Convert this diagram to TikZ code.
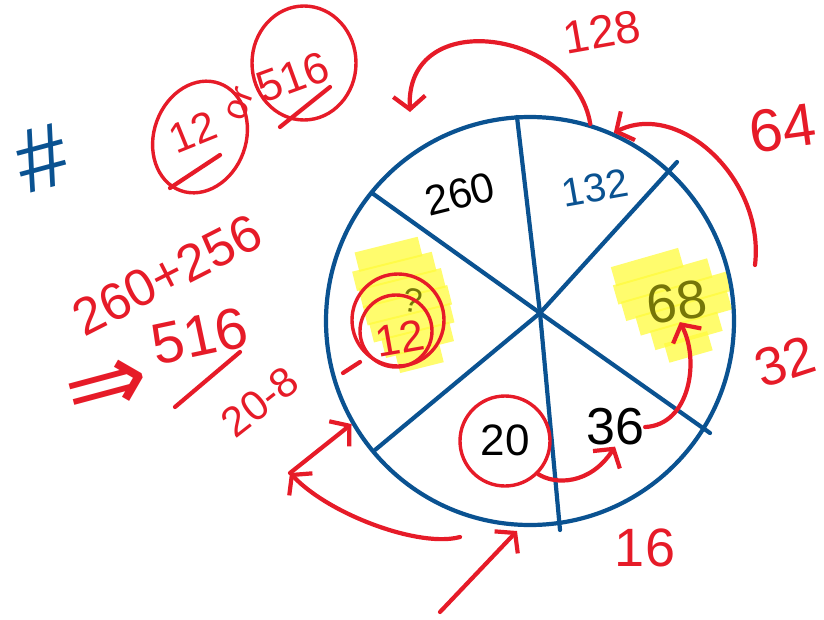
\documentclass[tikz,border=0pt]{standalone}
\usepackage{fontspec}
\setmainfont{Liberation Sans}
\newfontfamily\symbolfont{DejaVu Sans}
\usetikzlibrary{arrows.meta,positioning,calc,shapes.geometric}
\definecolor{inkred}{RGB}{230,27,40}
\definecolor{inkblue}{RGB}{10,82,145}
\definecolor{inkolive}{RGB}{118,118,8}
\definecolor{hilite}{RGB}{255,251,60}
\tikzset{
  pen/.style={line width=4.2pt, line cap=round, line join=round},
  redpen/.style={pen, draw=inkred},
  bluepen/.style={pen, draw=inkblue},
  arrow/.style={redpen, -{Straight Barb[length=13pt, width=32pt]}},
  ring/.style={redpen, line width=3.4pt, inner sep=0pt},
  num/.style={inner sep=1pt, font=\fontsize{#1}{#1}\selectfont},
  num/.default=42,
  note/.style={num=#1, text=inkred},
  note/.default=50,
  marker/.style={fill=hilite, fill opacity=0.75},
}

\begin{document}
\begin{tikzpicture}[x=1pt, y=-1pt]
  \useasboundingbox (0,0) rectangle (824,619);

  % highlighter strokes
  \foreach \y/\a/\b in {-42/-55/15, -24/-58/40, -6/-55/55, 12/-45/50, 30/-35/35, 46/-25/20}
    \fill[marker, rotate around={16:(678,302)}] (678+\a,302+\y-10) rectangle (678+\b,302+\y+10);
  \foreach \y/\a/\b in {-58/-35/30, -40/-42/40, -22/-40/45, -4/-40/47, 14/-38/45, 32/-30/40, 50/-20/25}
    \fill[marker, rotate around={14:(405,310)}] (405+\a,310+\y-10) rectangle (405+\b,310+\y+10);

  % the wheel
  \node[bluepen, circle, minimum size=408pt, inner sep=0pt] (wheel) at (530,321) {};
  \coordinate (hub) at (540,313);
  \draw[bluepen] (517,117) -- (hub) -- (560,530);
  \draw[bluepen] (372,193) -- (hub) -- (710,433);
  \draw[bluepen] (677,162) -- (hub) -- (375,450);

  % numbers in the slices
  \node[num, rotate=14] (n260) at (460,194) {260};
  \node[num=40, text=inkblue, rotate=10] (n132) at (595,188) {132};
  \node[num=54, text=inkolive, rotate=8] (n68) at (677,302) {68};
  \node[num=52] (n36) at (615,427) {36};
  \node[num=44] (n20) at (505,440) {20};
  \node[ring, circle, minimum size=90pt] (ring20) at (505,441) {};
  \node[num=34, text=inkolive, rotate=-10] (qmark) at (413,300) {?};
  \node[note=44, rotate=10] (n12) at (400,338) {12};
  \node[ring, circle, minimum size=92pt] (ring12a) at (398,320) {};
  \node[ring, circle, minimum size=72pt] (ring12b) at (396,331) {};
  \draw[redpen] (343,373) -- (360,362);

  % powers of two
  \node[note=46, rotate=10] (l128) at (602,32) {128};
  \node[note=60, rotate=8] (l64) at (783,128) {64};
  \node[note=54, rotate=18] (l32) at (785,362) {32};
  \node[note=54] (l16) at (645,548) {16};
  \node[note=42, rotate=38] (l208) at (260,402) {20-8};

  % working on the left
  \node[note=52, rotate=27] (sum) at (167,275) {260+256};
  \node[note=100, rotate=15] (imp) at (108,390) {\symbolfont ⇒};
  \node[note=58, rotate=12] (res) at (200,336) {516};
  \draw[redpen] (175,407) -- (240,352);
  \node[num=90, text=inkblue, rotate=15] (hash) at (42,158) {\#};
  \node[note=42, rotate=22] (topA) at (193,132) {12};
  \node[ring, ellipse, minimum width=92pt, minimum height=114pt, rotate=-20] (ringA) at (200,137) {};
  \draw[redpen] (170,188) -- (220,155);
  \node[note=36, rotate=70] (orword) at (240,104) {or};
  \node[note=44, rotate=20] (topB) at (293,77) {516};
  \node[ring, ellipse, minimum width=104pt, minimum height=114pt] (ringB) at (304,63) {};
  \draw[redpen] (280,127) -- (330,87);

  % arrows
  \coordinate (t128) at (410,112);
  \draw[arrow] (wheel.73) .. controls (575,30) and (405,5) .. (t128);
  \coordinate (s64) at (755,265);
  \draw[arrow] (s64) .. controls (765,180) and (680,100) .. (wheel.66);
  \draw[arrow] (n36.east) .. controls (690,425) and (700,360) .. (n68.south);
  \draw[arrow] (ring20.-45) .. controls (555,485) and (590,485) .. (n36.south);
  \coordinate (fork) at (290,473);
  \draw[arrow] (fork) -- (wheel.210);
  \coordinate (s20) at (460,537);
  \draw[arrow] (s20) .. controls (420,548) and (330,515) .. (fork);
  \coordinate (tail) at (440,612);
  \coordinate (tip) at (517,531);
  \draw[arrow] (tail) -- (tip);
\end{tikzpicture}
\end{document}
